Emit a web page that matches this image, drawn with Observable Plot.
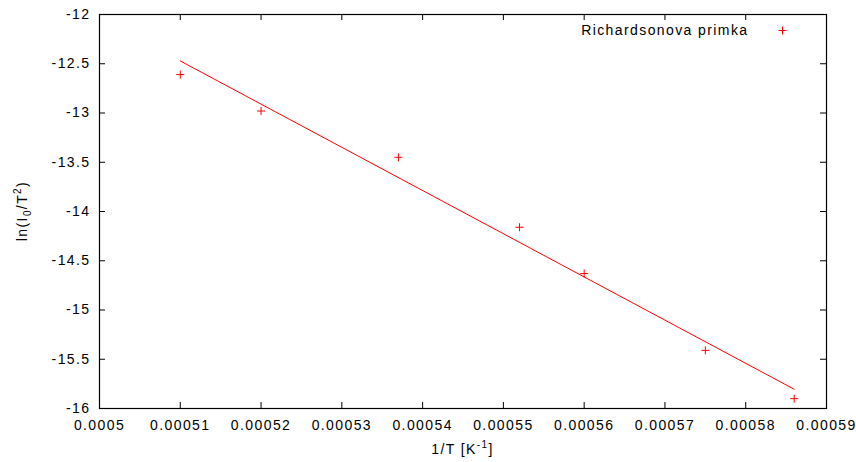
<!DOCTYPE html>
<html><head><meta charset="utf-8">
<script src="https://cdn.jsdelivr.net/npm/d3@7"></script>
<script src="https://cdn.jsdelivr.net/npm/@observablehq/plot@0.6"></script>
<style>
html,body{margin:0;padding:0;background:#fff;overflow:hidden;}
svg text{font-family:"Liberation Sans",Arial,sans-serif;}
</style></head><body><div id="chart"></div>
<script>
// data
const invT = [0.00051, 0.00052, 0.000537, 0.000552, 0.00056, 0.000575, 0.000586];
const lnIT2 = [-12.61, -12.98, -13.45, -14.16, -14.63, -15.41, -15.90];
const xTicks = [0.0005, 0.00051, 0.00052, 0.00053, 0.00054, 0.00055, 0.00056, 0.00057, 0.00058, 0.00059];
const xTickLabels = ["0.0005", "0.00051", "0.00052", "0.00053", "0.00054", "0.00055", "0.00056", "0.00057", "0.00058", "0.00059"];
const yTicks = [-16, -15.5, -15, -14.5, -14, -13.5, -13, -12.5, -12];
const yTickLabels = ["-16", "-15.5", "-15", "-14.5", "-14", "-13.5", "-13", "-12.5", "-12"];
const seriesName = "Richardsonova primka";

const data = invT.map((x, i) => ({x, y: lnIT2[i]}));

const plusSymbol = {
  draw(ctx, size) {
    const r = Math.sqrt(size / Math.PI);
    ctx.moveTo(-r, 0); ctx.lineTo(r, 0);
    ctx.moveTo(0, -r); ctx.lineTo(0, r);
  }
};

const W = 856, H = 462, mL = 99, mR = 30, mT = 14, mB = 54;
const innerW = W - mL - mR, innerH = H - mT - mB, tk = 6;

const plot = Plot.plot({
  width: W, height: H,
  marginLeft: mL, marginRight: mR, marginTop: mT, marginBottom: mB,
  style: {fontSize: "14px", fontFamily: "Liberation Sans, Arial, sans-serif", letterSpacing: "1.4px", background: "#fff", color: "#000"},
  x: {domain: [0.0005, 0.00059]},
  y: {domain: [-16, -12]},
  marks: [
    Plot.axisX(xTicks, {tickSize: 0, tickPadding: 12, label: null, tickFormat: d => xTickLabels[xTicks.indexOf(d)]}),
    Plot.axisY(yTicks, {tickSize: 0, tickPadding: 9, label: null, tickFormat: d => yTickLabels[yTicks.indexOf(d)]}),
    Plot.tickX(xTicks, {x: d => d, stroke: "black", insetTop: innerH - tk}),
    Plot.tickX(xTicks, {x: d => d, stroke: "black", insetBottom: innerH - tk}),
    Plot.tickY(yTicks, {y: d => d, stroke: "black", insetRight: innerW - tk}),
    Plot.tickY(yTicks, {y: d => d, stroke: "black", insetLeft: innerW - tk}),
    Plot.linearRegressionY(data, {x: "x", y: "y", stroke: "#ff0000", strokeWidth: 1, ci: 0}),
    Plot.dot(data, {x: "x", y: "y", symbol: plusSymbol, r: 4, stroke: "#ff0000", fill: "none", strokeWidth: 1}),
    Plot.text([seriesName], {text: d => d, frameAnchor: "top-right", dx: -78, dy: 16, textAnchor: "end", lineAnchor: "middle", fill: "black"}),
    Plot.dot([seriesName], {frameAnchor: "top-right", dx: -44, dy: 16, symbol: plusSymbol, r: 4, stroke: "#ff0000", fill: "none", strokeWidth: 1}),
    Plot.frame({stroke: "black", strokeWidth: 1.2})
  ]
});

const svg = d3.select(plot);
// y axis label
const yl = svg.append("text")
  .attr("transform", `translate(27,${mT + innerH / 2}) rotate(-90)`)
  .attr("text-anchor", "middle").attr("fill", "black");
yl.append("tspan").text("ln(I");
yl.append("tspan").attr("font-size", "10px").attr("dy", 4).text("0");
yl.append("tspan").attr("dy", -4).text("/T");
yl.append("tspan").attr("font-size", "10px").attr("dy", -6).text("2");
yl.append("tspan").attr("dy", 6).text(")");
// x axis label
const xl = svg.append("text")
  .attr("transform", `translate(${mL + innerW / 2},454)`)
  .attr("text-anchor", "middle").attr("fill", "black");
xl.append("tspan").text("1/T [K");
xl.append("tspan").attr("font-size", "10px").attr("dy", -6).text("-1");
xl.append("tspan").attr("dy", 6).text("]");

document.getElementById("chart").appendChild(plot);
</script></body></html>
